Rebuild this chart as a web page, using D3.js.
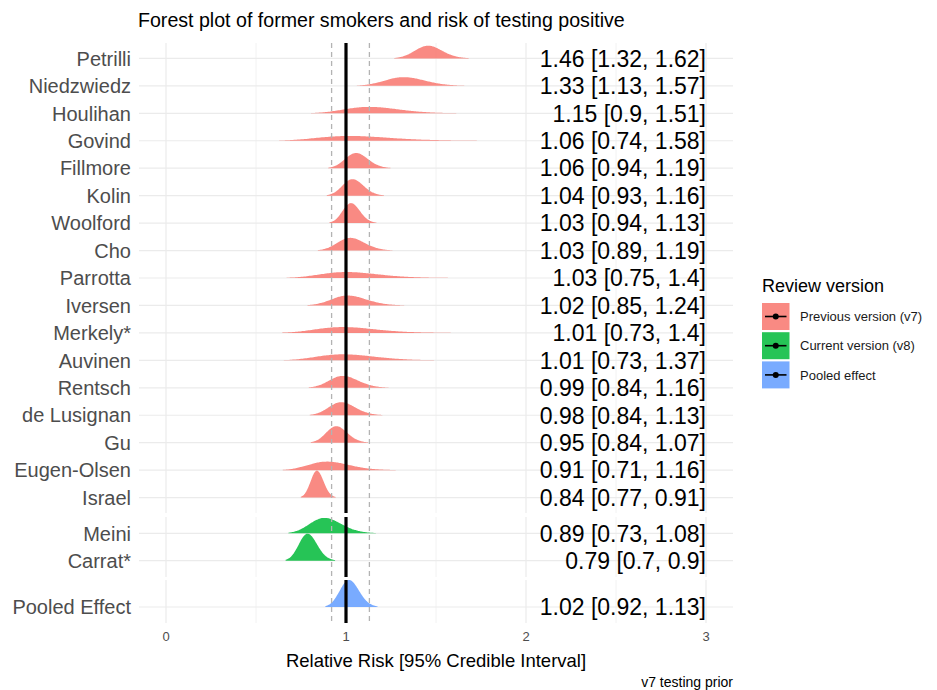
<!DOCTYPE html>
<html>

<head>
    <title>Forest plot</title>
    <script src="https://cdn.jsdelivr.net/npm/d3@7"></script>
    <style>
        body { margin: 0; background: #fff; }
        text { font-family: "Liberation Sans", Arial, sans-serif; }
    </style>
</head>

<body>
    <svg width="937" height="690" id="mainsvg"></svg>
    <script>
        // previous review version (v7)
        const v7Names = ['Petrilli', 'Niedzwiedz', 'Houlihan', 'Govind', 'Fillmore', 'Kolin', 'Woolford', 'Cho',
            'Parrotta', 'Iversen', 'Merkely*', 'Auvinen', 'Rentsch', 'de Lusignan', 'Gu', 'Eugen-Olsen', 'Israel'];
        const v7Est = [1.46, 1.33, 1.15, 1.06, 1.06, 1.04, 1.03, 1.03, 1.03, 1.02, 1.01, 1.01, 0.99, 0.98, 0.95, 0.91, 0.84];
        const v7Lo = [1.32, 1.13, 0.9, 0.74, 0.94, 0.93, 0.94, 0.89, 0.75, 0.85, 0.73, 0.73, 0.84, 0.84, 0.84, 0.71, 0.77];
        const v7Hi = [1.62, 1.57, 1.51, 1.58, 1.19, 1.16, 1.13, 1.19, 1.4, 1.24, 1.4, 1.37, 1.16, 1.13, 1.07, 1.16, 0.91];
        // current review version (v8)
        const v8Names = ['Meini', 'Carrat*'];
        const v8Est = [0.89, 0.79];
        const v8Lo = [0.73, 0.7];
        const v8Hi = [1.08, 0.9];
        // pooled
        const pooledNames = ['Pooled Effect'];
        const pooledEst = [1.02];
        const pooledLo = [0.92];
        const pooledHi = [1.13];

        const groupLabels = ['Previous version (v7)', 'Current version (v8)', 'Pooled effect'];
        const groupColors = ['#F8766D', '#00BA38', '#619CFF'];
        const xTicks = [0, 1, 2, 3];
        const xMinor = [0.5, 1.5, 2.5];

        const svg = d3.select('svg');
        const RIDGE_H = 27;

        const x = d3.scaleLinear().domain([-0.15, 3.15]).range([139, 733]);

        const makeRows = (names, est, lo, hi, g) => names.map((n, i) => ({
            name: n, est: est[i], lo: lo[i], hi: hi[i], group: g
        }));

        // three facet panels, stacked
        const panels = [
            { rows: makeRows(v7Names, v7Est, v7Lo, v7Hi, 0), top: 43, bottom: 513 },
            { rows: makeRows(v8Names, v8Est, v8Lo, v8Hi, 1), top: 517, bottom: 577 },
            { rows: makeRows(pooledNames, pooledEst, pooledLo, pooledHi, 2), top: 580, bottom: 623 }
        ];
        panels[0].y = d3.scalePoint().domain(v7Names).range([43 + 15.4, 513 - 15.4]);
        panels[1].y = d3.scalePoint().domain(v8Names).range([517 + 16.3, 577 - 16.3]);
        panels[2].y = d3.scalePoint().domain(pooledNames).range([607, 607]);

        // log-normal density from the estimate and its 95% interval
        const density = d => {
            const mu = Math.log(d.est);
            const sd = (Math.log(d.hi) - Math.log(d.lo)) / 3.92;
            const pts = [];
            const a = Math.exp(mu - 2.7 * sd), b = Math.exp(mu + 2.7 * sd);
            for (let k = 0; k <= 120; k++) {
                const v = a + (b - a) * k / 120;
                const z = (Math.log(v) - mu) / sd;
                pts.push([v, Math.exp(-0.5 * z * z) / (v * sd * Math.sqrt(2 * Math.PI))]);
            }
            return pts;
        };

        const gGrid = svg.append('g');
        const gRidge = svg.append('g');
        const gLines = svg.append('g');

        panels.forEach(p => {
            p.rows.forEach(r => r.dens = density(r));
            const maxD = d3.max(p.rows, r => d3.max(r.dens, q => q[1]));
            const h = d3.scaleLinear().domain([0, maxD]).range([0, RIDGE_H]);

            // grid
            gGrid.selectAll(null).data(xMinor).join('line')
                .attr('x1', x).attr('x2', x).attr('y1', p.top).attr('y2', p.bottom)
                .attr('stroke', '#f2f2f2').attr('stroke-width', 1);
            gGrid.selectAll(null).data(xTicks).join('line')
                .attr('x1', x).attr('x2', x).attr('y1', p.top).attr('y2', p.bottom)
                .attr('stroke', '#ebebeb').attr('stroke-width', 1.2);
            gGrid.selectAll(null).data(p.rows).join('line')
                .attr('x1', 139).attr('x2', 733)
                .attr('y1', r => p.y(r.name)).attr('y2', r => p.y(r.name))
                .attr('stroke', '#ebebeb').attr('stroke-width', 1.2);

            // ridges
            const area = d3.area().x(q => x(q[0])).y0(0).y1(q => -h(q[1])).curve(d3.curveBasis);
            gRidge.selectAll(null).data(p.rows).join('path')
                .attr('transform', r => `translate(0,${p.y(r.name)})`)
                .attr('d', r => area(r.dens))
                .attr('fill', r => groupColors[r.group]).attr('fill-opacity', 0.85);

            // reference lines at pooled interval and at 1
            gLines.selectAll(null).data([pooledLo[0], pooledHi[0]]).join('line')
                .attr('x1', x).attr('x2', x).attr('y1', p.top).attr('y2', p.bottom)
                .attr('stroke', '#b3b3b3').attr('stroke-width', 1.3).attr('stroke-dasharray', '5,4');
            gLines.append('line')
                .attr('x1', x(1)).attr('x2', x(1)).attr('y1', p.top).attr('y2', p.bottom)
                .attr('stroke', 'black').attr('stroke-width', 3.2);

            // study labels
            svg.selectAll(null).data(p.rows).join('text')
                .attr('x', 131).attr('y', r => p.y(r.name)).attr('dy', '0.36em')
                .attr('text-anchor', 'end').attr('font-size', 20).attr('fill', '#4d4d4d')
                .text(r => r.name);

            // estimate text
            svg.selectAll(null).data(p.rows).join('text')
                .attr('x', x(3)).attr('y', r => p.y(r.name)).attr('dy', '0.36em')
                .attr('text-anchor', 'end').attr('font-size', 23).attr('fill', 'black')
                .text(r => `${r.est} [${r.lo}, ${r.hi}]`);
        });

        // x axis labels
        svg.selectAll(null).data(xTicks).join('text')
            .attr('x', x).attr('y', 641)
            .attr('text-anchor', 'middle').attr('font-size', 13).attr('fill', '#4d4d4d')
            .text(d => d);
        svg.append('text').attr('x', x(1.5)).attr('y', 667)
            .attr('text-anchor', 'middle').attr('font-size', 18.5).attr('fill', 'black')
            .text('Relative Risk [95% Credible Interval]');

        // title
        svg.append('text').attr('x', 138).attr('y', 27)
            .attr('font-size', 19.6).attr('fill', 'black')
            .text('Forest plot of former smokers and risk of testing positive');

        // caption
        svg.append('text').attr('x', 733).attr('y', 687)
            .attr('text-anchor', 'end').attr('font-size', 14).attr('fill', 'black')
            .text('v7 testing prior');

        // legend
        const lg = svg.append('g').attr('transform', 'translate(762,0)');
        lg.append('text').attr('x', 0).attr('y', 292).attr('font-size', 18).attr('fill', 'black')
            .text('Review version');
        const keys = lg.selectAll(null).data(groupLabels).join('g')
            .attr('transform', (d, i) => `translate(0,${303 + i * 29.2})`);
        keys.append('rect').attr('width', 27.5).attr('height', 27)
            .attr('fill', (d, i) => groupColors[i]).attr('fill-opacity', 0.85);
        keys.append('line').attr('x1', 3).attr('x2', 24.5).attr('y1', 13.5).attr('y2', 13.5)
            .attr('stroke', 'black').attr('stroke-width', 1.6);
        keys.append('circle').attr('cx', 13.75).attr('cy', 13.5).attr('r', 3).attr('fill', 'black');
        keys.append('text').attr('x', 38).attr('y', 13.5).attr('dy', '0.36em')
            .attr('font-size', 13).attr('fill', '#1a1a1a')
            .text(d => d);
    </script>
</body>

</html>
